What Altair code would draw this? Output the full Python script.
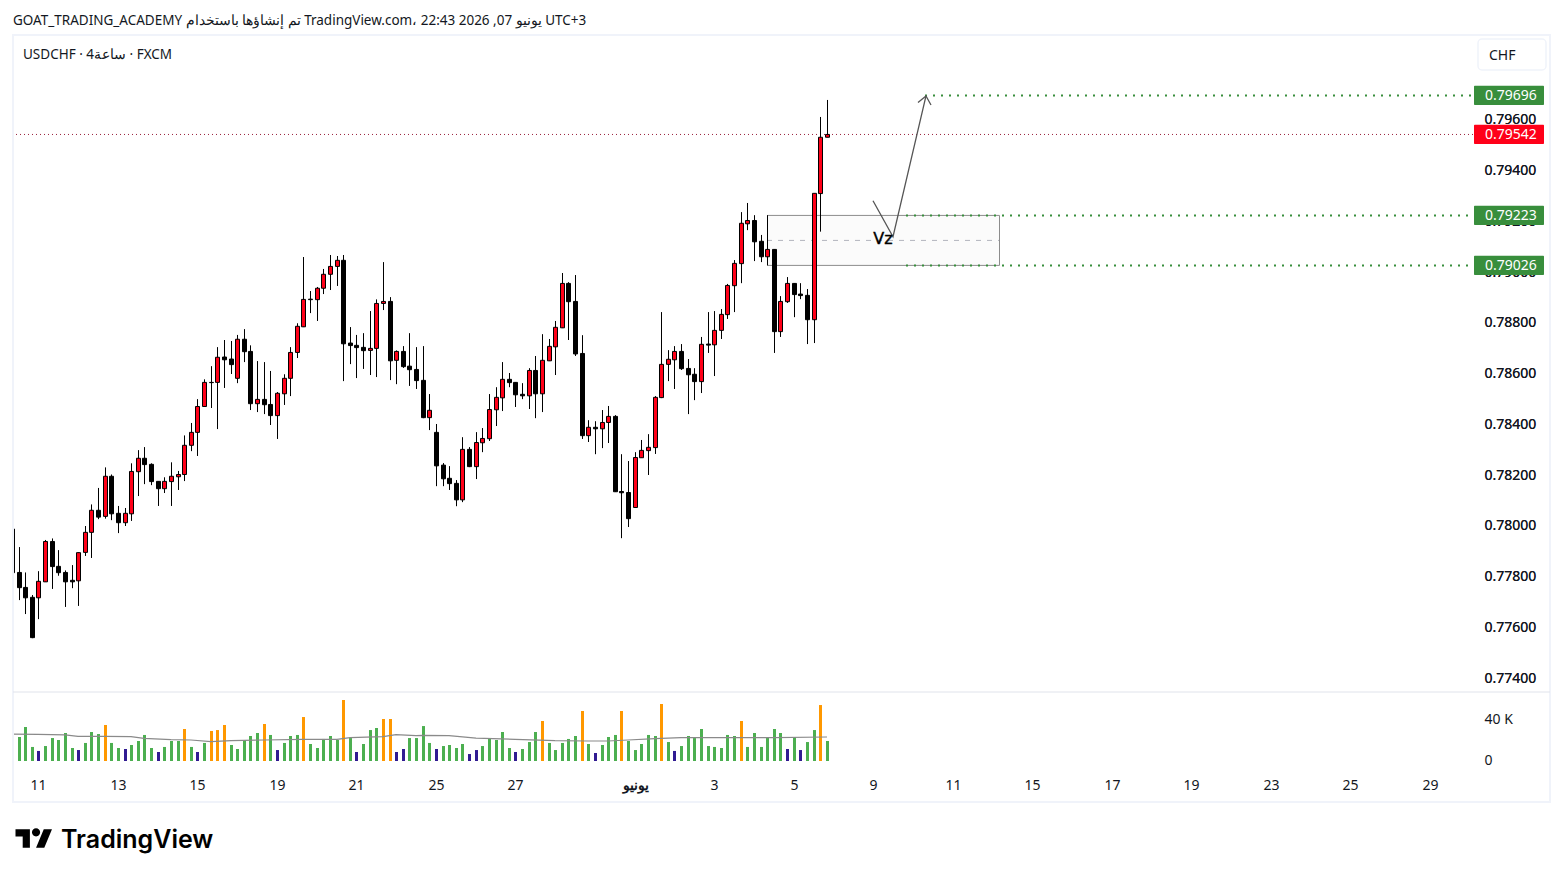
import altair as alt
import pandas as pd

# Candle values, in 1e-5 of a franc per dollar
opens = [77987,77816,77757,77718,77716,77779,77938,77840,77816,77785,77783,77895,77974,78061,78037,78195,78049,78012,78047,78213,78266,78242,78175,78146,78174,78193,78202,78317,78368,78470,78565,78565,78665,78657,78581,78735,78687,78481,78498,78478,78434,78520,78581,78683,78784,78893,78891,78936,78991,79022,79046,78720,78711,78703,78691,78699,78876,78884,78652,78687,78629,78616,78573,78426,78368,78239,78187,78167,78102,78301,78233,78327,78343,78457,78504,78577,78565,78518,78512,78612,78520,78650,78705,78780,78955,78884,78679,78355,78388,78382,78407,78431,78135,78131,78072,78268,78296,78308,78505,78636,78654,78687,78620,78597,78568,78716,78713,78770,78832,78946,79033,79190,79203,79121,79060,79089,78765,78883,78955,78913,78908,78812,79309,79531]
highs = [77987,77916,77816,77727,77821,77944,77950,77904,77824,77845,77895,77999,78084,78149,78230,78202,78078,78070,78246,78298,78310,78246,78175,78191,78250,78216,78356,78405,78499,78577,78629,78704,78732,78728,78752,78775,78711,78649,78645,78610,78527,78597,78704,78798,79059,78925,78941,79012,79067,79063,79067,78783,78752,78759,78846,78892,79039,78901,78691,78708,78759,78704,78708,78519,78401,78247,78235,78180,78349,78310,78369,78385,78519,78546,78645,78602,78566,78562,78621,78669,78755,78736,78807,78996,78960,78988,78751,78416,78412,78456,78472,78436,78282,78255,78290,78338,78361,78511,78842,78692,78708,78716,78657,78621,78744,78842,78846,78854,78953,79047,79236,79272,79224,79146,79224,79090,78905,78980,78956,78956,78933,79310,79611,79678]
lows = [77815,77707,77652,77557,77632,77779,77751,77803,77680,77754,77684,77881,77873,78026,78028,78022,77971,77999,78019,78117,78164,78160,78078,78129,78078,78141,78176,78294,78275,78469,78464,78381,78543,78598,78562,78645,78456,78448,78440,78397,78342,78476,78511,78661,78783,78838,78807,78913,78929,78945,78570,78637,78582,78618,78594,78586,78850,78574,78558,78622,78551,78539,78424,78377,78156,78156,78141,78077,78093,78231,78184,78290,78334,78393,78452,78546,78468,78499,78460,78424,78448,78649,78594,78779,78732,78669,78342,78330,78282,78306,78326,78133,77951,77995,78070,78268,78200,78283,78503,78570,78539,78614,78440,78495,78523,78681,78590,78736,78815,78842,78956,79165,79043,79039,79026,78681,78744,78878,78822,78893,78716,78720,79159,79531]
closes = [77815,77756,77716,77559,77781,77938,77839,77815,77779,77779,77894,77974,78061,78034,78195,78047,78012,78049,78214,78266,78241,78174,78146,78175,78195,78202,78317,78368,78470,78565,78564,78664,78654,78635,78735,78686,78481,78498,78477,78434,78522,78581,78683,78786,78892,78891,78936,78991,79022,79046,78717,78710,78702,78690,78699,78876,78884,78650,78687,78627,78615,78572,78426,78455,78236,78185,78166,78102,78301,78233,78328,78344,78458,78506,78577,78564,78516,78512,78612,78520,78652,78707,78782,78955,78883,78677,78355,78388,78382,78407,78431,78134,78130,78028,78269,78297,78309,78506,78636,78656,78687,78619,78595,78568,78715,78712,78770,78833,78947,79034,79192,79203,79119,79060,79089,78765,78884,78955,78911,78907,78812,79310,79531,79542]

# Volume, in thousands
volumes = [21.5,23.4,33.2,13.7,9.8,14.6,22.4,20.5,27.3,12.7,10.7,17.6,28.3,26.3,35.1,17.6,12.7,11.7,15.6,19.5,25.4,12.7,8.8,13.7,19.5,19.5,31.2,13.7,8.8,17.6,29.3,30.2,35.1,15.6,11.7,20.5,24.4,27.3,36.1,25.4,10.7,17.6,24.4,25.4,42.9,16.6,12.7,21.5,24.4,20.5,59.5,22.4,8.8,16.6,30.2,32.2,41.0,41.0,8.8,11.7,22.4,22.4,34.1,17.6,11.7,14.6,15.6,12.7,16.6,6.8,10.7,14.6,21.5,20.5,28.3,12.7,8.8,11.7,18.5,28.3,39.0,17.6,10.7,17.6,21.5,24.4,48.8,16.6,7.8,15.6,23.4,25.4,48.8,19.5,10.7,16.6,25.4,24.4,55.6,18.5,9.8,14.6,24.4,22.4,31.2,14.6,13.7,12.7,25.4,24.4,39.0,13.7,27.3,13.7,23.4,31.2,27.3,11.7,23.4,10.7,18.5,30.2,54.6,19.5]
vol_kinds = list("GGGGNGGGGG" "NGGGOGGNGG" "GGNGGGOGNG" "OOOGGGGGOG" "NGGGOGGGGG" "OGNGGGOONN" "GGGGNGGGGN" "NGGGGGNGGG" "OGGGGGOGNG" "GGOGGGGGOG" "NGGGGGGGGG" "OGGGGGGNGN" "GGOG")
vol_colors = {"G": "#4caf50", "N": "#311b92", "O": "#ff9800"}

# Volume moving average
ma_at = [0,4,8,10,14,18,20,24,27,30,33,38,44,49,51,56,58,61,62,66,70,76,82,87,90,93,97,101,109,115,123]
ma_val = [26.3,26.0,25.4,24.1,24.1,23.7,22.1,20.8,20.5,18.9,19.8,20.5,21.1,21.1,22.8,23.7,25.7,24.7,25.0,24.7,22.4,21.1,19.8,19.5,19.5,20.5,21.8,22.8,22.8,22.8,23.4]

# Axis ticks
x_tick_at = [4,16,28,40,52,64,76,94,106,118,130,142,154,166,178,190,202,214]
x_tick_text = ["11","13","15","19","21","25","27","يونيو","3","5","9","11","15","17","19","23","25","29"]
y_ticks = [0.774,0.776,0.778,0.780,0.782,0.784,0.786,0.788,0.790,0.792,0.794,0.796]

# Drawn levels and badges
level_price = [0.79696, 0.79223, 0.79026]
level_from = [137.8, 134.9, 134.9]
last_price = 0.79542
line_end = 220.5
badge_half = 0.00038

# Drawn box and arrow
box_i = [114, 148.95]
box_top = 0.79223
box_bottom = 0.79026
box_mid = 0.791245
arrow_i = [129.9, 133.0, 137.9, 136.7, 137.9, 138.7]
arrow_p = [0.79281, 0.79139, 0.79694, 0.79668, 0.79694, 0.79658]
arrow_seg = [0, 0, 0, 1, 1, 1]

header = "GOAT_TRADING_ACADEMY تم إنشاؤها باستخدام TradingView.com،\u200e 22:43 2026 ,07 يونيو\u200e UTC+3"
symbol = "USDCHF · 4ساعة · FXCM"

FONT = "Noto Sans"
INK = "#131722"
W, H = 1547, 855

candles = pd.DataFrame({
    "i": range(len(opens)),
    "open": [v / 1e5 for v in opens], "high": [v / 1e5 for v in highs],
    "low": [v / 1e5 for v in lows], "close": [v / 1e5 for v in closes],
})
candles["fill"] = ["#ff0018" if c > o else "#000000" for o, c in zip(opens, closes)]
vol = pd.DataFrame({"i": range(len(volumes)), "v": volumes, "c": [vol_colors[k] for k in vol_kinds]})
ma = pd.DataFrame({"i": ma_at, "v": ma_val})
one = pd.DataFrame({"a": [0]})

x_scale = alt.Scale(domain=[0, 221], range=[4, 1468.1], nice=False, zero=False, padding=0, round=True)
p_scale = alt.Scale(domain=[0.774, 0.796], range=[670, 111.75], nice=False, zero=False)
v_scale = alt.Scale(domain=[0, 40], range=[753, 712], nice=False, zero=True)

x_axis = alt.Axis(
    values=x_tick_at,
    labelExpr="%s[indexof(%s, datum.value)]" % (x_tick_text, x_tick_at),
    title=None, grid=False, ticks=False, domain=False, offset=-78, labelPadding=0,
    labelBaseline="middle", labelFont=FONT, labelFontSize=14, labelColor=INK,
    labelFontWeight={"condition": {"test": "datum.value === 94", "value": "bold"}, "value": "normal"},
    labelOverlap=False, labelFlush=False, labelBound=False, labelAngle=0,
)
p_axis = alt.Axis(
    values=y_ticks, format=".5f", orient="right", title=None, grid=False, ticks=False,
    domain=False, offset=-71, labelPadding=0, labelFont=FONT, labelFontSize=14, labelColor=INK,
    labelOverlap=False, labelFlush=False, labelBound=False,
)
v_axis = alt.Axis(
    values=[0, 40], labelExpr="datum.value == 0 ? '0' : '40 K'", orient="right", title=None,
    grid=False, ticks=False, domain=False, offset=-71, labelPadding=0, labelFont=FONT,
    labelFontSize=14, labelColor=INK, labelOverlap=False, labelFlush=False, labelBound=False,
    labelOffset=-1,
)

X = lambda f="i": alt.X(f + ":Q", scale=x_scale, axis=x_axis)
Y = lambda f: alt.Y(f + ":Q", scale=p_scale, axis=p_axis)

levels = pd.DataFrame({"p": level_price, "x0": level_from, "x1": [line_end] * 3})
badges = pd.DataFrame({
    "p": level_price + [last_price],
    "c": ["#388e3c"] * 3 + ["#ff0019"],
})
badges["top"] = badges["p"] + badge_half
badges["bot"] = badges["p"] - badge_half
badges["t"] = badges["p"].map(lambda v: f"{v:.5f}")

box = alt.Chart(pd.DataFrame({"x0": [box_i[0]], "x1": [box_i[1]], "t": [box_top], "b": [box_bottom], "m": [box_mid]}))
box_fill = box.mark_rect(fill="#fbfbfb", stroke="#8c8c8c", strokeWidth=1, xOffset=0.5, x2Offset=0.5).encode(
    x=X("x0"), x2="x1:Q", y=Y("t"), y2="b:Q")
box_dash = box.mark_rule(color="#b2b5be", strokeWidth=1, strokeDash=[5, 6]).encode(
    x=X("x0"), x2="x1:Q", y=Y("m"))

last_line = alt.Chart(pd.DataFrame({"x0": [0], "x1": [line_end], "p": [last_price]})).mark_rule(
    color="#99203c", strokeWidth=1, strokeDash=[1, 3]).encode(x=X("x0"), x2="x1:Q", y=Y("p"))
level_lines = alt.Chart(levels).mark_rule(color="#388e3c", strokeWidth=2, strokeDash=[2, 6]).encode(
    x=X("x0"), x2="x1:Q", y=Y("p"))

wicks = alt.Chart(candles).mark_rule(color="#000000", strokeWidth=1, xOffset=0.5).encode(
    x=X(), y=Y("high"), y2="low:Q")
bodies = alt.Chart(candles).mark_bar(size=4, stroke="#000000", strokeWidth=1, orient="vertical", xOffset=0.5).encode(
    x=X(), y=Y("open"), y2="close:Q", color=alt.Color("fill:N", scale=None))

arrow = alt.Chart(pd.DataFrame({
    "i": arrow_i, "p": arrow_p, "seg": arrow_seg, "o": range(len(arrow_i))
})).mark_line(color="#555555", strokeWidth=1.3).encode(
    x=X(), y=Y("p"), detail="seg:N", order="o:Q")
vz = alt.Chart(pd.DataFrame({"i": [131.4], "p": [0.79130], "t": ["Vz"]})).mark_text(
    font="DejaVu Sans", fontSize=16, color="#000000", stroke="#000000", strokeWidth=0.4).encode(
    x=X(), y=Y("p"), text="t:N")

badge_rect = alt.Chart(badges).mark_rect(cornerRadius=1).encode(
    x=alt.value(1466), x2=alt.value(1536), y=Y("top"), y2="bot:Q",
    color=alt.Color("c:N", scale=None))
badge_text = alt.Chart(badges).mark_text(
    font=FONT, fontSize=14, color="#ffffff", align="left", dy=1).encode(
    x=alt.value(1477), y=Y("p"), text="t:N")

price_layers = alt.layer(box_fill, box_dash, last_line, level_lines, wicks, bodies, arrow, vz)
label_layers = alt.layer(badge_rect, badge_text)

vol_bars = alt.Chart(vol).mark_bar(size=3, xOffset=0.5).encode(
    x=X(), y=alt.Y("v:Q", scale=v_scale, axis=v_axis), color=alt.Color("c:N", scale=None))
vol_line = alt.Chart(ma).mark_line(color="#8a8a8a", strokeWidth=1.2).encode(
    x=X(), y=alt.Y("v:Q", scale=v_scale, axis=v_axis))
vol_layers = alt.layer(vol_bars, vol_line)


def text(s, x, y, size, weight=400, color=INK, align="left", font=FONT):
    return alt.Chart(one).mark_text(
        font=font, fontSize=size, fontWeight=weight, color=color, align=align, baseline="middle"
    ).encode(x=alt.value(x), y=alt.value(y), text=alt.value(s))


def frame(x, x2, y, y2, **kw):
    return alt.Chart(one).mark_rect(**kw).encode(
        x=alt.value(x), x2=alt.value(x2), y=alt.value(y), y2=alt.value(y2))


logo_path = ("M-0.222 0.5H-0.611V-0.111H-1V-0.5H-0.222Z"
             "M0.556 0.5H0.111L0.528 -0.5H0.972Z"
             "M-0.111 -0.333a0.222 0.222 0 1 0 0.444 0a0.222 0.222 0 1 0 -0.444 0Z")

decor = alt.layer(
    frame(0, 5, 200, 794, fill="#ffffff"),
    frame(5, 1542, 27, 794, fill="#ffffff", fillOpacity=0, stroke="#f0f3fa", strokeWidth=2),
    alt.Chart(one).mark_rule(color="#e0e3eb", strokeWidth=1).encode(
        x=alt.value(5), x2=alt.value(1542), y=alt.value(684)),
    frame(1470, 1538, 31, 62, fill="#ffffff", stroke="#f0f3fa", strokeWidth=1.5, cornerRadius=4),
    text("CHF", 1481, 47.5, 14),
    text(header, 5, 12.5, 13.5),
    text(symbol, 15, 46.5, 13.5),
    alt.Chart(one).mark_point(shape=logo_path, size=1369, filled=True, fill="#000000", opacity=1, strokeWidth=0).encode(
        x=alt.value(26), y=alt.value(830.5)),
    text("TradingView", 53, 832, 25, weight=600, color="#000000", font="Inter"),
)

chart = alt.layer(price_layers, vol_layers, label_layers, decor).resolve_scale(
    y="independent"
).properties(
    width=W, height=H, padding=0, background="#ffffff",
    autosize=alt.AutoSizeParams(type="none"),
).configure_view(stroke=None)

chart.save("out.html", embed_options={"renderer": "svg", "actions": False})
